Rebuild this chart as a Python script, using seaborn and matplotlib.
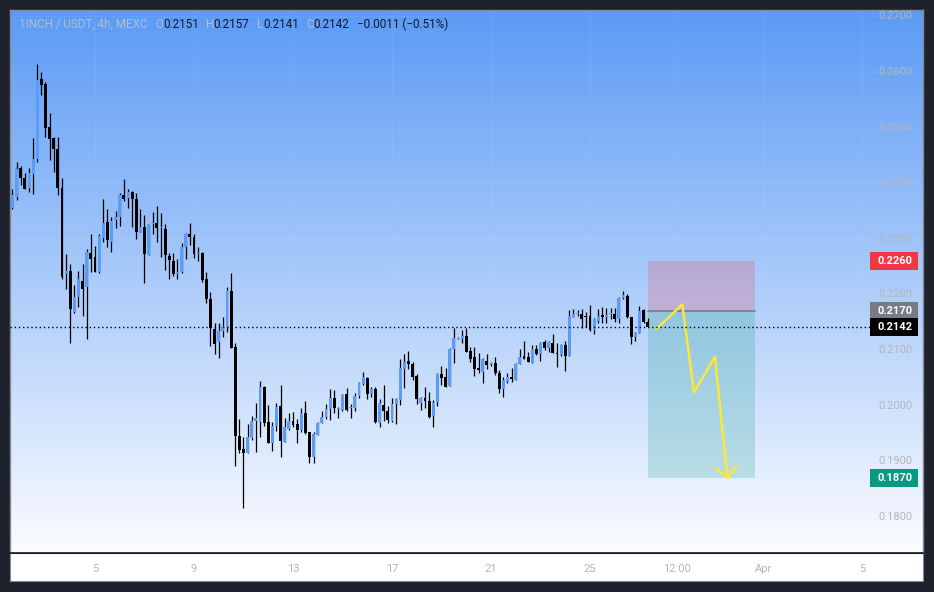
# 1INCH / USDT 4h candles with a short position drawing

import numpy as np
import pandas as pd
import matplotlib
matplotlib.use("Agg")
import matplotlib.pyplot as plt
import matplotlib.dates as mdates
import matplotlib.transforms as mtransforms
from matplotlib.colors import LinearSegmentedColormap
from matplotlib.patches import Rectangle
import seaborn as sns

# -----------------------------
# DATA (4h candles from Mar 1 16:00)
# -----------------------------
opens = [
    .2355, .2376, .2427, .2410, .2392, .2416, .2444, .2587, .2578, .2501,
    .2481, .2462, .2392, .2236, .2242, .2168, .2195, .2224, .2214, .2274,
    .2267, .2241, .2302, .2330, .2295, .2334, .2340, .2379, .2374, .2384,
    .2372, .2313, .2322, .2271, .2326, .2329, .2320, .2318, .2269, .2260,
    .2236, .2240, .2285, .2309, .2303, .2273, .2275, .2227, .2191, .2138,
    .2115, .2134, .2142, .2206, .2105, .1946, .1922, .1915, .1942, .1972,
    .1971, .2034, .1970, .1932, .1964, .2000, .1935, .1958, .1972, .1967,
    .1956, .1987, .1952, .1908, .1948, .1969, .1979, .1994, .2014, .1994,
    .1992, .2021, .1995, .1996, .2018, .2039, .2050, .2021, .2030, .1969,
    .2001, .1990, .1972, .2003, .2010, .2066, .2080, .2075, .2053, .2005,
    .2014, .2008, .1982, .2007, .2057, .2052, .2035, .2102, .2120, .2120,
    .2125, .2098, .2087, .2067, .2061, .2080, .2074, .2076, .2058, .2029,
    .2043, .2051, .2046, .2075, .2089, .2087, .2077, .2101, .2093, .2114,
    .2104, .2113, .2095, .2091, .2109, .2090, .2160, .2164, .2165, .2161,
    .2162, .2136, .2153, .2163, .2159, .2164, .2165, .2156, .2193, .2197,
    .2159, .2124, .2130, .2172, .2151,
]
highs = [
    .2389, .2438, .2431, .2418, .2428, .2481, .2614, .2600, .2582, .2526,
    .2483, .2483, .2409, .2273, .2255, .2217, .2242, .2255, .2281, .2308,
    .2287, .2309, .2372, .2354, .2340, .2350, .2382, .2407, .2389, .2386,
    .2382, .2354, .2343, .2327, .2348, .2359, .2346, .2327, .2275, .2274,
    .2263, .2293, .2311, .2329, .2309, .2285, .2276, .2240, .2204, .2149,
    .2148, .2160, .2213, .2238, .2112, .1976, .1943, .1967, .1981, .2004,
    .2044, .2036, .2001, .1971, .2004, .2037, .1977, .1986, .1988, .1976,
    .1995, .2008, .1952, .1953, .1971, .1990, .2003, .2029, .2028, .1998,
    .2020, .2031, .2002, .2022, .2043, .2061, .2052, .2034, .2034, .2012,
    .2037, .1999, .2014, .2014, .2084, .2093, .2098, .2079, .2056, .2016,
    .2034, .2024, .2010, .2058, .2071, .2068, .2103, .2139, .2123, .2136,
    .2139, .2106, .2106, .2094, .2085, .2093, .2079, .2088, .2064, .2052,
    .2059, .2067, .2076, .2102, .2116, .2097, .2109, .2109, .2115, .2118,
    .2116, .2128, .2112, .2110, .2116, .2172, .2173, .2172, .2173, .2168,
    .2181, .2158, .2174, .2178, .2176, .2175, .2175, .2195, .2206, .2200,
    .2160, .2133, .2179, .2174, .2157,
]
lows = [
    .2353, .2370, .2397, .2389, .2385, .2381, .2439, .2559, .2483, .2442,
    .2421, .2379, .2227, .2210, .2112, .2166, .2178, .2162, .2120, .2241,
    .2240, .2239, .2295, .2286, .2276, .2320, .2323, .2368, .2355, .2322,
    .2300, .2313, .2220, .2270, .2309, .2294, .2268, .2244, .2228, .2233,
    .2228, .2238, .2264, .2288, .2266, .2260, .2222, .2184, .2108, .2092,
    .2085, .2123, .2133, .2103, .1892, .1915, .1815, .1915, .1938, .1917,
    .1944, .1964, .1932, .1919, .1955, .1908, .1935, .1956, .1962, .1933,
    .1953, .1949, .1896, .1896, .1947, .1968, .1976, .1974, .1986, .1977,
    .1990, .1991, .1978, .1990, .2014, .2037, .2012, .2016, .1969, .1962,
    .1973, .1968, .1971, .1967, .2001, .2032, .2066, .2046, .2003, .1992,
    .1995, .1978, .1962, .2000, .2037, .2034, .2035, .2076, .2119, .2112,
    .2097, .2079, .2054, .2058, .2040, .2065, .2071, .2055, .2022, .2015,
    .2040, .2042, .2046, .2075, .2084, .2078, .2077, .2091, .2081, .2100,
    .2097, .2094, .2069, .2089, .2063, .2089, .2159, .2162, .2140, .2141,
    .2135, .2128, .2148, .2148, .2149, .2156, .2150, .2148, .2192, .2158,
    .2110, .2117, .2130, .2149, .2141,
]
closes = [
    .2378, .2426, .2410, .2390, .2418, .2444, .2586, .2576, .2500, .2480,
    .2461, .2392, .2232, .2242, .2173, .2195, .2227, .2210, .2276, .2264,
    .2241, .2305, .2329, .2298, .2332, .2340, .2378, .2372, .2384, .2371,
    .2313, .2322, .2273, .2326, .2327, .2320, .2321, .2271, .2262, .2236,
    .2240, .2285, .2309, .2304, .2273, .2274, .2226, .2192, .2139, .2111,
    .2134, .2143, .2207, .2104, .1946, .1920, .1915, .1943, .1972, .1978,
    .2034, .1969, .1933, .1964, .1998, .1937, .1961, .1972, .1966, .1957,
    .1987, .1951, .1908, .1949, .1969, .1980, .1994, .2014, .1996, .1995,
    .2019, .1992, .1998, .2018, .2040, .2052, .2021, .2030, .1970, .2004,
    .1991, .1974, .2003, .2012, .2068, .2079, .2075, .2051, .2011, .2014,
    .2009, .1980, .2005, .2057, .2050, .2034, .2102, .2121, .2121, .2125,
    .2097, .2084, .2066, .2064, .2084, .2073, .2075, .2059, .2030, .2046,
    .2051, .2048, .2074, .2087, .2084, .2078, .2101, .2093, .2112, .2104,
    .2114, .2095, .2093, .2109, .2089, .2161, .2165, .2167, .2156, .2159,
    .2136, .2155, .2161, .2160, .2163, .2165, .2156, .2193, .2199, .2159,
    .2124, .2132, .2170, .2151, .2142,
]

price_ticks = [0.18, 0.19, 0.20, 0.21, 0.22, 0.23, 0.24, 0.25, 0.26, 0.27]
time_ticks = ["2024-03-05 00:00", "2024-03-09 00:00", "2024-03-13 00:00",
              "2024-03-17 00:00", "2024-03-21 00:00", "2024-03-25 00:00",
              "2024-03-28 12:00", "2024-04-01 00:00", "2024-04-05 00:00"]
time_labels = ["5", "9", "13", "17", "21", "25", "12:00", "Apr", "5"]

# short position tool
entry_price = 0.2170
stop_price = 0.2260
target_price = 0.1870
position_bars = 26

# hand drawn projection path
path_times = ["2024-03-27 16:40", "2024-03-28 17:30", "2024-03-29 04:50",
              "2024-03-30 01:10", "2024-03-30 13:10"]
path_prices = [0.2138, 0.2182, 0.2024, 0.2088, 0.1870]
head_times = ["2024-03-30 02:10", "2024-03-30 13:10", "2024-03-30 22:20"]
head_prices = [0.1887, 0.1870, 0.1891]

title_parts = [
    ("1INCH / USDT, 4h, MEXC", 19, "#b8bcc6"),
    ("O", 155, "#b8bcc6"), ("0.2151", 163, "#131722"),
    ("H", 206, "#b8bcc6"), ("0.2157", 213, "#131722"),
    ("L", 257, "#b8bcc6"), ("0.2141", 263, "#131722"),
    ("C", 306, "#b8bcc6"), ("0.2142", 313, "#131722"),
    ("\u22120.0011 (\u22120.51%)", 357, "#131722"),
]

# -----------------------------
# FIGURE
# -----------------------------
sns.set_style("white")
plt.rcParams["font.family"] = ["Roboto", "DejaVu Sans"]

W, H = 934, 592
fig = plt.figure(figsize=(W / 100, H / 100), dpi=100, facecolor="#1e222d")
ax = fig.add_axes([10 / W, (H - 553) / H, 913 / W, 543 / H])
tax = fig.add_axes([10 / W, (H - 581) / H, 913 / W, 27 / H])

# gradient background
grad = np.linspace(0, 1, 256).reshape(-1, 1)
cmap = LinearSegmentedColormap.from_list("bg", ["#5b9bf5", "#fbfcff"])
ax.imshow(grad, extent=[0, 1, 0, 1], transform=ax.transAxes,
          aspect="auto", cmap=cmap, zorder=0)

times = pd.date_range("2024-03-01 16:00", periods=len(opens), freq="4h")
x = mdates.date2num(times)
o = np.array(opens)
c = np.array(closes)
up = c >= o
colors = np.where(up, "#5b9cf6", "#000000")

ax.vlines(x, lows, highs, color="black", lw=0.9, zorder=3)
body = np.maximum(np.abs(c - o), 0.00018)
ax.bar(x, body, bottom=np.minimum(o, c), width=0.12, color=colors,
       linewidth=0, zorder=4)

# position tool
t0 = x[-1]
t1 = t0 + position_bars / 6
ax.fill_between([t0, t1], entry_price, stop_price, color="#f23645",
                alpha=0.2, lw=0, zorder=2)
ax.fill_between([t0, t1], target_price, entry_price, color="#089981",
                alpha=0.2, lw=0, zorder=2)
ax.plot([t0, t1], [entry_price, entry_price], color="#787b86", lw=1.2, zorder=2)

# projection arrow
sns.lineplot(x=mdates.date2num(pd.to_datetime(path_times)), y=path_prices,
             sort=False, estimator=None, color="#fbe83a", lw=1.8, ax=ax, zorder=5)
ax.plot(mdates.date2num(pd.to_datetime(head_times)), head_prices,
        color="#fbe83a", lw=1.8, zorder=5)

# last price line
ax.axhline(closes[-1], xmin=0, xmax=0.942, color="black",
           ls=(0, (1, 2)), lw=1, zorder=6)

xmin = mdates.date2num(pd.Timestamp("2024-03-01")) + 0.566
xmax = mdates.date2num(pd.Timestamp("2024-03-01")) + 37.455
tick_x = mdates.date2num(pd.to_datetime(time_ticks))
ax.set_xlim(xmin, xmax)
ax.set_ylim(0.17349, 0.27115)
ax.set_xticks(tick_x)
ax.set_yticks(price_ticks)
ax.set_axisbelow(True)
ax.grid(True, color="white", alpha=0.06, lw=1)
ax.tick_params(length=0, labelbottom=False, labelleft=False)
for side in ["left", "top", "right"]:
    ax.spines[side].set_color("#868993")
    ax.spines[side].set_linewidth(1)
ax.spines["bottom"].set_color("#131722")
ax.spines["bottom"].set_linewidth(1.2)

# price scale labels
tr = mtransforms.blended_transform_factory(ax.transAxes, ax.transData)
for p in price_ticks:
    ax.text(0.989, p, f"{p:.4f}", transform=tr, ha="right", va="center",
            fontsize=8, color="#b2b5be", zorder=7)

for p, col in [(stop_price, "#f23645"), (entry_price, "#787b86"),
               (closes[-1], "#000000"), (target_price, "#089981")]:
    ax.add_patch(Rectangle((0.942, p - 0.00162), 0.0525, 0.00324, transform=tr,
                           facecolor=col, edgecolor="none", zorder=8,
                           clip_on=False))
    ax.text(0.989, p, f"{p:.4f}", transform=tr, ha="right", va="center",
            fontsize=8, color="white", fontweight="bold", zorder=9)

# time axis strip
tax.set_facecolor("white")
tax.set_xlim(xmin, xmax)
tax.set_ylim(0, 1)
tax.set_yticks([])
tax.set_xticks(tick_x, time_labels)
tax.tick_params(axis="x", length=0, pad=-12.5, labelsize=8, labelcolor="#b2b5be")
for side in ["left", "bottom", "right"]:
    tax.spines[side].set_color("#868993")
tax.spines["top"].set_visible(False)

# header line
for text, px, col in title_parts:
    fig.text(px / W, 1 - 24 / H, text, ha="left", va="center",
             fontsize=8.4, color=col)

plt.savefig("out.png", dpi=100, facecolor=fig.get_facecolor())
